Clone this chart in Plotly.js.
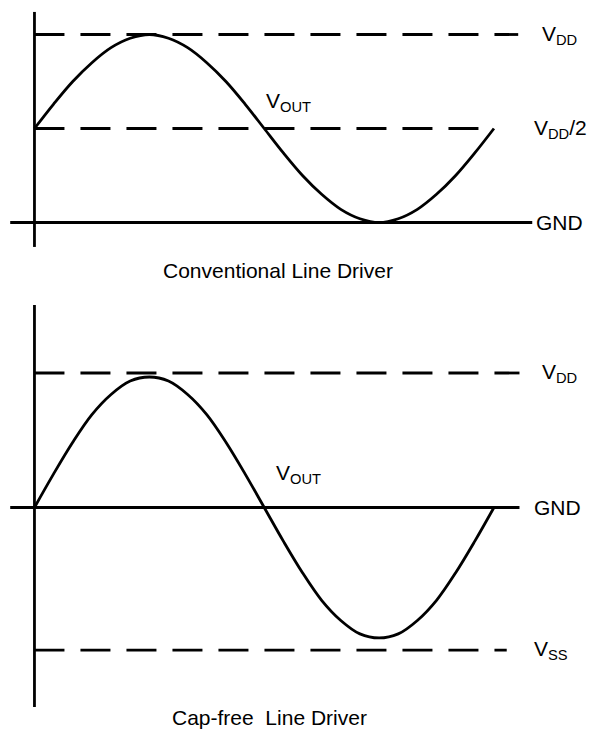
<!DOCTYPE html>
<html>
<head>
<meta charset="utf-8">
<script src="https://cdn.plot.ly/plotly-3.0.1.min.js"></script>
<style>
    html, body { margin: 0; padding: 0; background: #fff; }
    #chart { width: 593px; height: 729px; }
</style>
</head>
<body>
<div id="chart"></div>
<script>
// phase of the output signal, degrees
const phaseDeg = [0, 15, 30, 45, 60, 75, 90, 105, 120, 135, 150, 165, 180,
    195, 210, 225, 240, 255, 270, 285, 300, 315, 330, 345, 360]

// conventional driver: swings between GND (0) and VDD (1), centred on VDD/2
const voutConventional = [0.5, 0.63, 0.75, 0.85, 0.93, 0.98, 1.0, 0.98, 0.93, 0.85, 0.75, 0.63, 0.5,
    0.37, 0.25, 0.15, 0.07, 0.02, 0.0, 0.02, 0.07, 0.15, 0.25, 0.37, 0.5]

// cap-free driver: centred on GND, between VSS and VDD
const voutCapFree = [0, 0.25, 0.485, 0.69, 0.84, 0.94, 0.97, 0.94, 0.84, 0.69, 0.485, 0.25, 0,
    -0.25, -0.485, -0.69, -0.84, -0.94, -0.97, -0.94, -0.84, -0.69, -0.485, -0.25, 0]

const convLevels = [1, 0.5, 0]
const convLabels = ['V<sub>DD</sub>', 'V<sub>DD</sub>/2', 'GND']
const capLevels = [1, 0, -1.06]
const capLabels = ['V<sub>DD</sub>', 'GND', 'V<sub>SS</sub>']

const captions = ['Conventional Line Driver', 'Cap-free\u00a0 Line Driver']
const outLabel = 'V<sub>OUT</sub>'

const FONT = 'Liberation Sans, Arial, sans-serif'
const LW = 2.8
const DASH = '30px,16px'

function hline(xref, yref, x0, x1, y, dashed) {
    return {
        type: 'line', xref, yref, x0, x1, y0: y, y1: y,
        line: { color: '#000', width: LW, dash: dashed ? DASH : 'solid' }
    }
}

function vline(xref, yref, y0, y1) {
    return {
        type: 'line', xref, yref, x0: 0, x1: 0, y0, y1,
        line: { color: '#000', width: LW }
    }
}

function label(xref, yref, x, y, text, anchor, size) {
    return {
        xref, yref, x, y, text, showarrow: false,
        xanchor: anchor || 'left', yanchor: 'middle',
        font: { family: FONT, size: size || 21, color: '#000' }
    }
}

const traces = [
    {
        x: phaseDeg, y: voutConventional, xaxis: 'x', yaxis: 'y',
        mode: 'lines', line: { color: '#000', width: LW, shape: 'spline' },
        hoverinfo: 'skip'
    },
    {
        x: phaseDeg, y: voutCapFree, xaxis: 'x2', yaxis: 'y2',
        mode: 'lines', line: { color: '#000', width: LW, shape: 'spline' },
        hoverinfo: 'skip'
    }
]

const hidden = {
    visible: false, showgrid: false, zeroline: false, fixedrange: true
}

const shapes = [
    vline('x', 'y', 1.12, -0.13),
    hline('x', 'y', 0, 379, convLevels[0], true),
    hline('x', 'y', 0, 348, convLevels[1], true),
    hline('x', 'y', -19, 390, convLevels[2], false),

    vline('x2', 'y2', 1.506, -1.483),
    hline('x2', 'y2', 0, 380, capLevels[0], true),
    hline('x2', 'y2', -19, 380, capLevels[1], false),
    hline('x2', 'y2', 0, 370, capLevels[2], true)
]

const annotations = [
    label('x', 'y', 396, convLevels[0], convLabels[0]),
    label('x', 'y', 390, convLevels[1], convLabels[1]),
    label('x', 'y', 391, convLevels[2], convLabels[2]),
    label('x', 'y', 180, 0.64, outLabel),
    label('x', 'y', 191, -0.255, captions[0], 'center', 21),

    label('x2', 'y2', 396, capLevels[0], capLabels[0]),
    label('x2', 'y2', 390, capLevels[1], capLabels[1]),
    label('x2', 'y2', 390, capLevels[2], capLabels[2]),
    label('x2', 'y2', 188, 0.25, outLabel),
    label('x2', 'y2', 184, -1.562, captions[1], 'center', 21)
]

const layout = {
    width: 593,
    height: 729,
    margin: { l: 0, r: 0, t: 0, b: 0 },
    paper_bgcolor: '#fff',
    plot_bgcolor: '#fff',
    showlegend: false,
    xaxis: Object.assign({}, hidden, { range: [-27.0, 437.6], domain: [0, 1], anchor: 'y' }),
    yaxis: Object.assign({}, hidden, { range: [-0.359, 1.1835], domain: [0.6022, 1], anchor: 'x' }),
    xaxis2: Object.assign({}, hidden, { range: [-27.0, 437.6], domain: [0, 1], anchor: 'y2' }),
    yaxis2: Object.assign({}, hidden, { range: [-1.647, 1.617], domain: [0, 0.6022], anchor: 'x2' }),
    shapes,
    annotations
}

Plotly.newPlot('chart', traces, layout, { staticPlot: true, displayModeBar: false })
</script>
</body>
</html>
